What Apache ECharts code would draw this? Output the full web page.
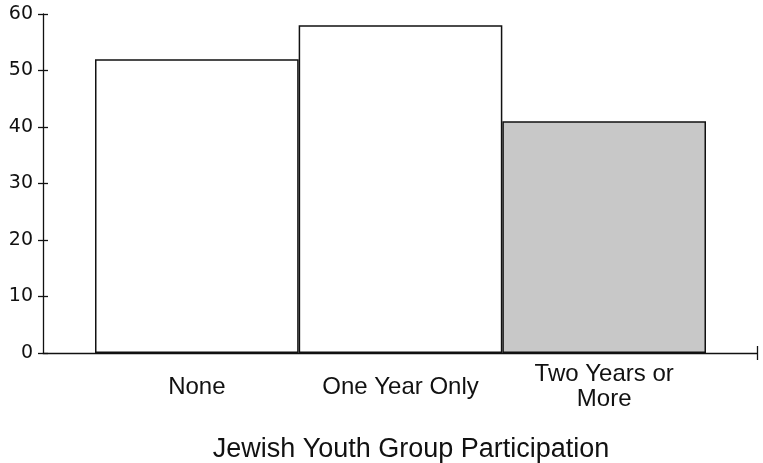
<!DOCTYPE html>
<html>
<head>
<meta charset="utf-8">
<script src="https://cdn.jsdelivr.net/npm/echarts@6/dist/echarts.min.js"></script>
<style>
  html, body { margin: 0; padding: 0; background: #ffffff; }
  #chart { width: 763px; height: 463px; }
</style>
</head>
<body>
<div id="chart"></div>
<script>
// ---- data ----
const categories = ['None', 'One Year Only', 'Two Years or\nMore'];
const percentValues = [52, 58, 41];
const yTicks = [0, 10, 20, 30, 40, 50, 60];
const axisTitle = 'Jewish Youth Group Participation';

const highlightIndex = 2;
const ink = '#111111';
const chart = echarts.init(document.getElementById('chart'), null, { renderer: 'canvas' });

const yMin = yTicks[0];
const yMax = yTicks[yTicks.length - 1];
const yStep = yTicks[1] - yTicks[0];

const option = {
  animation: false,
  backgroundColor: '#ffffff',
  title: {
    text: axisTitle,
    left: 406,
    top: 431,
    textAlign: 'center',
    textStyle: {
      fontFamily: 'Liberation Sans',
      fontSize: 27,
      fontWeight: 'normal',
      color: ink
    }
  },
  grid: [
    { left: 95, right: 57, top: 14, bottom: 110, containLabel: false },
    { left: 43, right: 6, top: 14, bottom: 110, containLabel: false }
  ],
  xAxis: [
    {
      type: 'category',
      gridIndex: 0,
      data: categories,
      axisLine: { show: false },
      axisTick: { show: false },
      axisLabel: {
        margin: 34,
        verticalAlign: 'middle',
        lineHeight: 25,
        fontFamily: 'Liberation Sans',
        fontSize: 24,
        color: ink,
        interval: 0
      }
    },
    {
      type: 'value',
      gridIndex: 1,
      min: 0,
      max: 1,
      interval: 1,
      axisLine: { show: true, lineStyle: { color: ink, width: 1.3 } },
      axisTick: { show: true, length: 7, inside: false, customValues: [1], lineStyle: { color: ink, width: 1.3 } },
      axisLabel: { show: false },
      splitLine: { show: false }
    },
    {
      type: 'value',
      gridIndex: 1,
      min: 0,
      max: 1,
      interval: 1,
      position: 'bottom',
      axisLine: { show: false },
      axisTick: { show: true, length: 7, inside: true, customValues: [1], lineStyle: { color: ink, width: 1.3 } },
      axisLabel: { show: false },
      splitLine: { show: false }
    }
  ],
  yAxis: [
    {
      type: 'value',
      gridIndex: 0,
      min: yMin,
      max: yMax,
      interval: yStep,
      offset: 52,
      axisLine: { show: true, lineStyle: { color: ink, width: 1.3 } },
      axisTick: { show: true, length: 5, lineStyle: { color: ink, width: 1.3 } },
      axisLabel: {
        margin: 10,
        fontFamily: 'DejaVu Sans',
        fontSize: 19,
        color: ink
      },
      splitLine: { show: false }
    },
    {
      type: 'value',
      gridIndex: 1,
      min: yMin,
      max: yMax,
      show: false
    },
    {
      type: 'value',
      gridIndex: 0,
      min: yMin,
      max: yMax,
      interval: yStep,
      offset: 52,
      position: 'left',
      axisLine: { show: false },
      axisTick: { show: true, length: 5, inside: true, lineStyle: { color: ink, width: 1.3 } },
      axisLabel: { show: false },
      splitLine: { show: false }
    }
  ],
  series: [
    {
      type: 'bar',
      xAxisIndex: 0,
      yAxisIndex: 0,
      data: percentValues,
      barWidth: '100%',
      barCategoryGap: '0%',
      itemStyle: {
        color: function (p) { return p.dataIndex === highlightIndex ? '#c8c8c8' : '#ffffff'; },
        borderColor: ink,
        borderWidth: 1.5
      }
    }
  ]
};

chart.setOption(option);
</script>
</body>
</html>
